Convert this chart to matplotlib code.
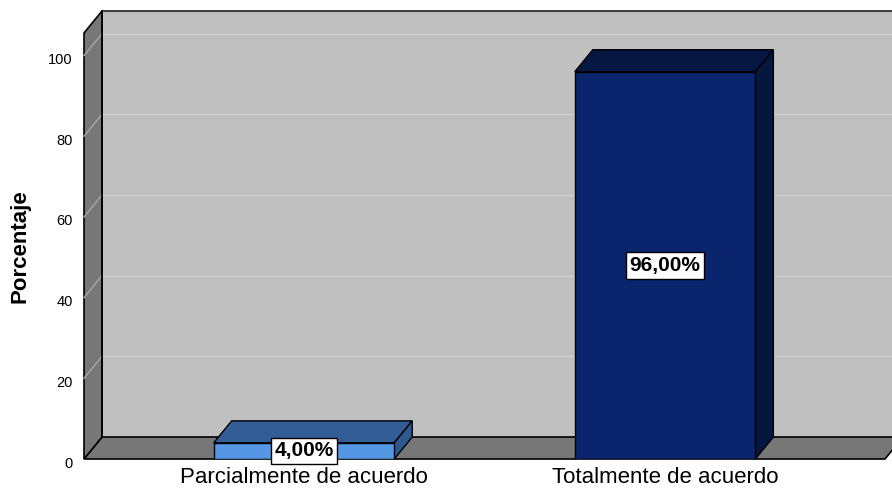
import matplotlib.pyplot as plt
import matplotlib.transforms as mtransforms
from matplotlib.patches import Polygon

plt.rcParams['font.family'] = ['Liberation Sans', 'DejaVu Sans']

categories = ['Parcialmente de acuerdo', 'Totalmente de acuerdo']
porcentajes = [4.0, 96.0]
yticks = [0, 20, 40, 60, 80, 100]

front_colors = ['#5597E4', '#0A246E']
top_colors = ['#335D97', '#061842']
side_colors = ['#2E5890', '#05173F']

fig = plt.figure(figsize=(8.92, 4.90), dpi=100)
ax = fig.add_axes([84 / 892, 31 / 490, 801 / 892, 426 / 490])
x0, x1 = -0.609, 1.609
y0, y1 = 0, 105.6
ax.set_xlim(x0, x1)
ax.set_ylim(y0, y1)
for s in ax.spines.values():
    s.set_visible(False)
ax.patch.set_visible(False)

# depth of the 3d box: 18 px right, 22 px up
dx = 18 * (x1 - x0) / 801
dy = 22 * (y1 - y0) / 426

def poly(pts, fc, z, ec='black', lw=1.0):
    ax.add_patch(Polygon(pts, closed=True, facecolor=fc, edgecolor=ec,
                         linewidth=lw, zorder=z, clip_on=False))

# back wall
poly([(x0 + dx, dy), (x1 + dx + 1, dy), (x1 + dx + 1, y1 + dy), (x0 + dx, y1 + dy)],
     '#C0C0C0', 1, ec='none')
ax.plot([x0 + dx, x1 + dx + 1], [y1 + dy, y1 + dy], color='#202020', lw=1.2,
        zorder=1.5, clip_on=False)
for v in yticks[1:]:
    ax.plot([x0 + dx, x1 + dx + 1], [v + dy, v + dy], color='#D0D0D0', lw=1,
            zorder=1.2, clip_on=False)

# floor
poly([(x0, 0), (x1, 0), (x1 + dx, dy), (x0 + dx, dy)], '#777777', 2, lw=1.2)

# left wall
poly([(x0, 0), (x0 + dx, dy), (x0 + dx, y1 + dy), (x0, y1)], '#777777', 3, lw=1.2)
for v in yticks[1:]:
    ax.plot([x0, x0 + dx], [v, v + dy], color='#A8A8A8', lw=1, zorder=3.5,
            clip_on=False)
ax.plot([x0 + dx, x0 + dx], [dy, y1 + dy], color='black', lw=1.2, zorder=3.6,
        clip_on=False)

# bars
w = 0.5
xs = range(len(categories))
ax.bar(xs, porcentajes, width=w, color=front_colors, edgecolor='black',
       linewidth=1.0, zorder=5)
for i, v in enumerate(porcentajes):
    l, r = i - w / 2, i + w / 2
    poly([(l, v), (r, v), (r + dx, v + dy), (l + dx, v + dy)], top_colors[i], 4.5)
    poly([(r, 0), (r + dx, dy), (r + dx, v + dy), (r, v)], side_colors[i], 4.5)
    ax.text(i, v / 2, f'{v:.2f}%'.replace('.', ','), ha='center', va='center',
            fontsize=15, fontweight='bold', zorder=6,
            bbox=dict(boxstyle='square,pad=0.18', facecolor='white',
                      edgecolor='black', linewidth=1))

ax.set_yticks(yticks)
ax.set_yticklabels([str(t) for t in yticks], fontsize=10.5)
ax.set_xticks(list(xs))
ax.set_xticklabels(categories, fontsize=16)
ax.tick_params(axis='y', length=0, pad=8)
ax.tick_params(axis='x', length=0, pad=6)
shift = mtransforms.ScaledTranslation(0, -0.03, fig.dpi_scale_trans)
for lab in ax.get_yticklabels():
    lab.set_transform(lab.get_transform() + shift)
ax.set_ylabel('Porcentaje', fontsize=16, fontweight='bold', labelpad=13)

fig.savefig('out.png', dpi=100)
